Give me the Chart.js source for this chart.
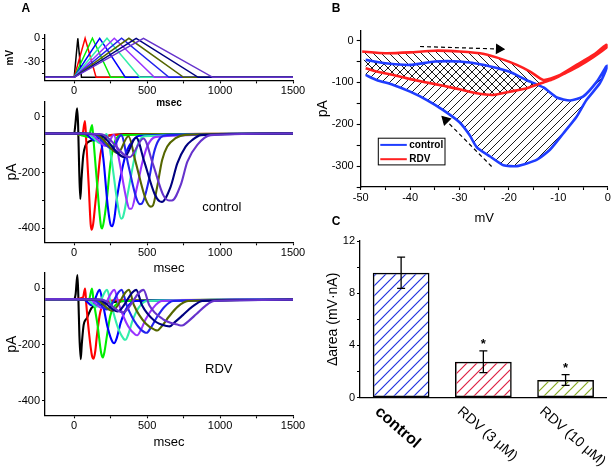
<!DOCTYPE html>
<html><head><meta charset="utf-8">
<script src="https://cdn.jsdelivr.net/npm/chart.js@4.4.1/dist/chart.umd.min.js"></script>
<style>
html,body{margin:0;padding:0;background:#fff;}
#wrap{position:relative;width:616px;height:468px;overflow:hidden;background:#fff;}
#wrap canvas{position:absolute;left:0;top:0;width:616px;height:468px;}
</style></head><body>
<div id="wrap">
<canvas id="cA1" width="616" height="468"></canvas>
<canvas id="cA2" width="616" height="468"></canvas>
<canvas id="cA3" width="616" height="468"></canvas>
<canvas id="cB" width="616" height="468"></canvas>
<canvas id="cC" width="616" height="468"></canvas>
</div>
<script>
// ---------------- DATA ----------------
// Panel A: ramp protocols
const tTicks = [0, 250, 500, 750, 1000, 1250, 1500];
const tLabels = [0, 500, 1000, 1500];
const protoVTicks = [0, -15, -30, -45];
const protoVLabels = [0, -30];
const rampPeak = [25, 75, 125, 175, 225, 275, 325, 375, 425, 475];
const rampEnd = [50, 150, 250, 350, 450, 550, 650, 750, 850, 950];
const holdV = -50, peakV = 0;
const traceColors = ['#000000', '#ff0000', '#00ee00', '#0000ff', '#33eeaa', '#9933ff', '#2222ee', '#556600', '#000080', '#6633cc'];

// Panel A: currents, control  [msec, pA]
const c50 = [[-200,-60],[0,-60],[8,-28],[20,30],[27,-30],[34,-180],[42,-295],[50,-225],[62,-140],[76,-105],[120,-85],[200,-72],[350,-62],[1500,-62]];
const c150 = [[-200,-60],[0,-60],[55,-66],[74,-15],[82,-80],[100,-250],[113,-385],[120,-405],[130,-385],[145,-310],[160,-235],[180,-135],[210,-82],[260,-65],[1500,-60]];
const c250 = [[-200,-60],[0,-60],[100,-72],[123,-30],[132,-80],[160,-260],[185,-395],[192,-400],[205,-370],[225,-290],[248,-170],[282,-85],[330,-66],[1500,-60]];
const c350 = [[-200,-60],[0,-60],[70,-60],[140,-85],[172,-62],[200,-150],[230,-320],[252,-390],[262,-392],[275,-365],[294,-287],[328,-190],[363,-120],[397,-88],[450,-68],[1500,-60]];
const c450 = [[-200,-60],[0,-60],[90,-60],[180,-95],[222,-62],[255,-150],[300,-320],[322,-365],[332,-362],[363,-287],[397,-191],[431,-107],[480,-70],[1500,-60]];
const c550 = [[-200,-60],[0,-60],[110,-62],[220,-105],[272,-65],[310,-160],[360,-300],[380,-330],[392,-330],[431,-251],[466,-167],[500,-107],[560,-72],[1500,-60]];
const c650 = [[-200,-60],[0,-60],[130,-62],[260,-115],[322,-66],[370,-170],[425,-290],[450,-313],[462,-312],[512,-227],[546,-131],[580,-83],[640,-66],[1500,-60]];
const c750 = [[-200,-60],[0,-60],[150,-63],[300,-130],[372,-70],[420,-160],[490,-295],[525,-322],[540,-318],[569,-251],[603,-155],[638,-107],[695,-77],[760,-65],[1500,-60]];
const c850 = [[-200,-60],[0,-60],[170,-63],[345,-145],[425,-75],[480,-160],[550,-275],[585,-303],[600,-305],[661,-251],[707,-167],[764,-107],[810,-83],[870,-66],[1500,-60]];
const c950 = [[-200,-60],[0,-60],[190,-63],[380,-145],[475,-78],[540,-170],[610,-280],[650,-300],[670,-300],[730,-245],[776,-161],[844,-101],[936,-66],[1500,-60]];

// Panel A: currents, RDV  [msec, pA]
const r50 = [[-200,-38],[0,-38],[10,-20],[22,48],[28,-20],[36,-170],[45,-252],[52,-200],[65,-130],[87,-106],[122,-68],[200,-55],[350,-45],[1500,-40]];
const r150 = [[-200,-38],[0,-38],[60,-32],[75,0],[82,-50],[100,-150],[122,-240],[133,-250],[145,-222],[156,-167],[179,-84],[213,-53],[280,-42],[1500,-40]];
const r250 = [[-200,-38],[0,-38],[100,-42],[122,0],[132,-40],[160,-130],[185,-230],[197,-246],[208,-225],[225,-167],[248,-96],[282,-60],[340,-45],[1500,-40]];
const r350 = [[-200,-38],[0,-38],[70,-40],[120,-60],[175,-5],[195,-50],[230,-140],[262,-190],[275,-195],[290,-180],[320,-120],[360,-70],[420,-45],[1500,-40]];
const r450 = [[-200,-38],[0,-38],[90,-40],[155,-65],[225,-5],[250,-50],[300,-140],[340,-180],[352,-183],[370,-165],[400,-115],[440,-70],[500,-45],[1500,-40]];
const r550 = [[-200,-38],[0,-38],[110,-40],[190,-70],[275,-5],[305,-55],[370,-135],[420,-165],[432,-167],[455,-150],[490,-110],[540,-70],[600,-45],[1500,-40]];
const r650 = [[-200,-38],[0,-38],[130,-40],[225,-75],[325,-5],[360,-60],[430,-130],[485,-157],[497,-158],[525,-140],[570,-100],[620,-65],[680,-45],[1500,-40]];
const r750 = [[-200,-38],[0,-38],[150,-40],[262,-80],[375,-5],[410,-60],[490,-125],[555,-148],[570,-150],[600,-135],[650,-100],[710,-65],[780,-45],[1500,-40]];
const r850 = [[-200,-38],[0,-38],[170,-40],[297,-82],[425,-5],[465,-60],[550,-115],[635,-134],[655,-135],[690,-120],[745,-95],[810,-65],[880,-45],[1500,-40]];
const r950 = [[-200,-38],[0,-38],[190,-40],[332,-85],[475,-5],[515,-60],[610,-110],[715,-130],[740,-132],[780,-118],[840,-90],[900,-62],[960,-45],[1500,-40]];

const pATicks = [0, -100, -200, -300, -400];
const pALabels = [0, -200, -400];

// Panel B: I-V loops
const ivMvTicks = [-50,-45,-40,-35,-30,-25,-20,-15,-10,-5,0];
const ivMvLabels = [-50,-40,-30,-20,-10,0];
const ivPaTicks = [0,-50,-100,-150,-200,-250,-300,-350];
const ivPaLabels = [0,-100,-200,-300];
const ctrlUpV = [-49,-45,-40,-35,-30,-25,-20,-16.5,-13,-10.3,-7.6,-5,-2.2,-0.3];
const ctrlUpI = [-46,-54,-58,-50,-50,-58,-74,-94,-112,-136,-143,-134,-98,-62];
const ctrlDnV = [0,-1.6,-4.3,-6.3,-9,-11.7,-14.4,-18.4,-21.1,-23.8,-26.5,-28,-30,-33.3,-36.6,-40,-43.4,-46.8,-49];
const ctrlDnI = [-60,-102,-142,-182,-222,-261,-285,-300,-298,-277,-255,-225,-195,-166,-142,-122,-106,-94,-82];
const rdvUpV = [-49.7,-45,-40,-35,-30,-25,-21,-18.4,-15.7,-13,-10,-6.3,-2.9,-0.3];
const rdvUpI = [-26,-30,-28,-24,-26,-32,-46,-58,-74,-94,-84,-58,-34,-10];
const rdvDnV = [0,-3,-6,-9,-11,-13,-16.4,-19.8,-23.2,-26.5,-30,-33.3,-36.6,-40,-43.4,-46.8,-49];
const rdvDnI = [-14,-40,-62,-80,-92,-100,-114,-122,-130,-126,-116,-108,-100,-92,-82,-74,-66];
const arrowTop = [[-38,-14],[-22,-20]];
const arrowBottom = [[-23.5,-301],[-32.8,-190]];
const ivSeries = ['control', 'RDV'];

// Panel C: bars
const barCats = ['control', 'RDV (3 μM)', 'RDV (10 μM)'];
const barVals = [9.57, 2.75, 1.36];
const barErr = [1.2, 0.83, 0.41];
const barSig = ['', '*', '*'];
const barTicks = [0, 2, 4, 6, 8, 10, 12];
const barLabels = [0, 4, 8, 12];

// ---------------- HELPERS ----------------
const FONT = "'Liberation Sans', Arial, Helvetica, sans-serif";
Chart.defaults.font.family = FONT;
Chart.defaults.color = '#000';
const W = 616, H = 468;
function layoutFor(L, T, R, B, yw, xh) {
  return {padding: {left: L - yw, top: T, right: W - R, bottom: H - B - xh}};
}
function axis(c) {
  const isY = c.pos === 'left';
  return {
    type: 'linear', position: c.pos, min: c.min, max: c.max,
    afterBuildTicks: s => { s.ticks = c.ticks.map(v => ({value: v})); },
    afterFit: s => {
      if (isY) { s.width = c.size; s.paddingTop = 0; s.paddingBottom = 0; }
      else { s.height = c.size; s.paddingLeft = 0; s.paddingRight = 0; }
    },
    ticks: {autoSkip: false, maxRotation: 0, minRotation: 0, padding: c.tickPad ?? 1, color: '#000',
      font: {size: 11}, callback: v => c.labels.includes(v) ? String(v) : ''},
    grid: {display: true, drawOnChartArea: false, drawTicks: true, tickLength: c.tickLen ?? 3, tickColor: '#000', tickWidth: 1.1},
    border: {display: true, color: '#000', width: 1.3},
    title: c.title ? {display: true, text: c.title, color: '#000', font: c.titleFont, padding: c.titlePad} : {display: false}
  };
}
function pts(arr) { return arr.map(p => ({x: p[0], y: p[1]})); }
function zip(xs, ys) { return xs.map((x, i) => ({x, y: ys[i]})); }
function panelLabel(t, x, y) {
  return {id: 'pl' + t, afterDraw(chart) {
    const ctx = chart.ctx; ctx.save(); ctx.fillStyle = '#000'; ctx.font = 'bold 12px ' + FONT;
    ctx.textAlign = 'left'; ctx.textBaseline = 'alphabetic'; ctx.fillText(t, x, y); ctx.restore();
  }};
}
function dataText(t, xv, yv, size) {
  return {id: 'dt' + t, afterDraw(chart) {
    const ctx = chart.ctx, xs = chart.scales.x, ys = chart.scales.y;
    ctx.save(); ctx.fillStyle = '#000'; ctx.font = size + 'px ' + FONT;
    ctx.textAlign = 'center'; ctx.textBaseline = 'middle';
    ctx.fillText(t, xs.getPixelForValue(xv), ys.getPixelForValue(yv)); ctx.restore();
  }};
}
function hatch(canvasId, color, size, lw, dir) {
  const c = document.createElement('canvas'); c.width = size; c.height = size;
  const g = c.getContext('2d'); g.strokeStyle = color; g.lineWidth = lw;
  g.beginPath();
  if (dir > 0) {
    g.moveTo(0, size); g.lineTo(size, 0);
    g.moveTo(-size / 2, size / 2); g.lineTo(size / 2, -size / 2);
    g.moveTo(size / 2, size * 1.5); g.lineTo(size * 1.5, size / 2);
  } else {
    g.moveTo(0, 0); g.lineTo(size, size);
    g.moveTo(-size / 2, size / 2); g.lineTo(size / 2, size * 1.5);
    g.moveTo(size / 2, -size / 2); g.lineTo(size * 1.5, size / 2);
  }
  g.stroke();
  return document.getElementById(canvasId).getContext('2d').createPattern(c, 'repeat');
}
const baseOpts = {responsive: false, animation: false, events: [], devicePixelRatio: 1};
const noLegend = {legend: {display: false}, tooltip: {enabled: false}};

// ---------------- A1: protocol ----------------
new Chart(document.getElementById('cA1'), {
  type: 'line',
  data: {datasets: rampEnd.map((e, i) => ({
    data: pts([[-200, holdV], [0, holdV], [rampPeak[i], peakV], [e, holdV], [1500, holdV]]),
    borderColor: traceColors[i], borderWidth: 1.5, pointRadius: 0, tension: 0, order: 9 - i
  }))},
  options: Object.assign({}, baseOpts, {
    layout: layoutFor(45, 35, 293, 80.4, 45, 30),
    plugins: noLegend,
    scales: {
      x: axis({pos: 'bottom', min: -200, max: 1500, ticks: tTicks, labels: tLabels, size: 30,
        title: 'msec', titleFont: {size: 10, weight: 'bold'}, titlePad: {top: 0, bottom: 1.4}}),
      y: axis({pos: 'left', min: -54, max: 4.2, ticks: protoVTicks, labels: protoVLabels, size: 45, tickPad: 2,
        title: 'mV', titleFont: {size: 10, weight: 'bold'}, titlePad: {top: 4, bottom: 0}})
    }
  }),
  plugins: [panelLabel('A', 21.5, 11.7)]
});

// ---------------- A2 / A3: currents ----------------
function currentChart(id, traces, top, bottom, ymin, ymax, label, lx, ly) {
  new Chart(document.getElementById(id), {
    type: 'line',
    data: {datasets: traces.map((tr, i) => ({
      data: pts(tr), borderColor: traceColors[i], borderWidth: 2.1, pointRadius: 0,
      cubicInterpolationMode: 'monotone', order: 9 - i, fill: false
    }))},
    options: Object.assign({}, baseOpts, {
      layout: layoutFor(45, top, 293, bottom, 45, 35),
      plugins: noLegend,
      scales: {
        x: axis({pos: 'bottom', min: -200, max: 1500, ticks: tTicks, labels: tLabels, size: 35,
          title: 'msec', titleFont: {size: 13}, titlePad: {top: 0, bottom: id === 'cA2' ? 1.5 : 0.5}}),
        y: axis({pos: 'left', min: ymin, max: ymax, ticks: pATicks, labels: pALabels, size: 45, tickPad: 2,
          title: 'pA', titleFont: {size: 14}, titlePad: {top: 3.6, bottom: 0}})
      }
    }),
    plugins: [dataText(label, lx, ly, 13)]
  });
}
currentChart('cA2', [c50, c150, c250, c350, c450, c550, c650, c750, c850, c950], 101.4, 242.3, -450, 55, 'control', 1012, -324);
currentChart('cA3', [r50, r150, r250, r350, r450, r550, r650, r750, r850, r950], 273, 415.3, -452, 55, 'RDV', 991, -289);

// ---------------- B: I-V ----------------
const ctrlBlue = '#1f3dff', rdvRed = '#ff2020';
const ivLegend = {id: 'ivLegend', afterDraw(chart) {
  const ctx = chart.ctx, a = chart.chartArea;
  const x0 = a.left + 17.6, y0 = a.top + 108, w = 66.7, h = 26.7;
  ctx.save();
  ctx.strokeStyle = '#000'; ctx.lineWidth = 1; ctx.strokeRect(x0, y0, w, h);
  [[ctrlBlue, ivSeries[0]], [rdvRed, ivSeries[1]]].forEach(([c, t], i) => {
    const y = y0 + 6.7 + i * 14.3;
    ctx.strokeStyle = c; ctx.lineWidth = 2; ctx.beginPath(); ctx.moveTo(x0 + 2, y); ctx.lineTo(x0 + 28.5, y); ctx.stroke();
    ctx.fillStyle = '#000'; ctx.font = 'bold 10px ' + FONT; ctx.textAlign = 'left'; ctx.textBaseline = 'middle';
    ctx.fillText(t, x0 + 31, y + 0.5);
  });
  ctx.restore();
}};
new Chart(document.getElementById('cB'), {
  type: 'line',
  data: {datasets: [
    {data: pts(arrowTop), borderColor: '#000', borderWidth: 1.2, borderDash: [4, 3], pointRadius: [0, 5],
      pointStyle: 'triangle', pointRotation: 92, pointBackgroundColor: '#000', pointBorderColor: '#000', tension: 0},
    {data: pts(arrowBottom), borderColor: '#000', borderWidth: 1.2, borderDash: [4, 3], pointRadius: [0, 5],
      pointStyle: 'triangle', pointRotation: -45, pointBackgroundColor: '#000', pointBorderColor: '#000', tension: 0},
    {label: ivSeries[1], data: zip(rdvUpV, rdvUpI).concat(zip(rdvDnV, rdvDnI)), borderColor: rdvRed, borderWidth: 2.6,
      pointRadius: 0, tension: 0.2, fill: 'shape', backgroundColor: hatch('cB', '#000', 8, 0.9, -1)},
    {label: ivSeries[0], data: zip(ctrlUpV, ctrlUpI).concat(zip(ctrlDnV, ctrlDnI)), borderColor: ctrlBlue, borderWidth: 2.6,
      pointRadius: 0, tension: 0.2, fill: 'shape', backgroundColor: hatch('cB', '#000', 8, 0.9, 1)}
  ]},
  options: Object.assign({}, baseOpts, {
    layout: layoutFor(360.7, 30.2, 607.7, 187, 46, 40),
    plugins: Object.assign({filler: {drawTime: 'beforeDatasetsDraw'}}, noLegend),
    scales: {
      x: axis({pos: 'bottom', min: -50, max: 0, ticks: ivMvTicks, labels: ivMvLabels, size: 40,
        title: 'mV', titleFont: {size: 13}, titlePad: {top: 0, bottom: 1.2}}),
      y: axis({pos: 'left', min: -350, max: 25, ticks: ivPaTicks, labels: ivPaLabels, size: 46, tickLen: 4, tickPad: 3,
        title: 'pA', titleFont: {size: 14}, titlePad: {top: 0, bottom: 0}})
    }
  }),
  plugins: [ivLegend, panelLabel('B', 331.7, 11.7)]
});

// ---------------- C: bars ----------------
const barDeco = {id: 'barDeco', afterDatasetsDraw(chart) {
  const ctx = chart.ctx, xs = chart.scales.x, ys = chart.scales.y;
  ctx.save();
  barVals.forEach((v, i) => {
    const px = xs.getPixelForValue(i);
    const t = ys.getPixelForValue(v + barErr[i]), b = ys.getPixelForValue(v - barErr[i]);
    ctx.strokeStyle = '#000'; ctx.lineWidth = 1.3; ctx.beginPath();
    ctx.moveTo(px, t); ctx.lineTo(px, b);
    ctx.moveTo(px - 4, t); ctx.lineTo(px + 4, t);
    ctx.moveTo(px - 4, b); ctx.lineTo(px + 4, b);
    ctx.stroke();
    if (barSig[i]) {
      ctx.fillStyle = '#000'; ctx.font = 'bold 13px ' + FONT; ctx.textAlign = 'center'; ctx.textBaseline = 'alphabetic';
      ctx.fillText(barSig[i], px, t - 3);
    }
  });
  ctx.restore();
}, afterDraw(chart) {
  const ctx = chart.ctx, xs = chart.scales.x, a = chart.chartArea;
  barCats.forEach((t, i) => {
    const px = xs.getPixelForValue(i);
    ctx.save(); ctx.translate(px - 24, a.bottom + 12); ctx.rotate(41 * Math.PI / 180);
    ctx.fillStyle = '#000'; ctx.font = (i === 0 ? 'bold 16px ' : '14px ') + FONT;
    ctx.textAlign = 'left'; ctx.textBaseline = 'middle'; ctx.fillText(t, 0, 0); ctx.restore();
  });
}};
new Chart(document.getElementById('cC'), {
  type: 'bar',
  data: {labels: barCats, datasets: [{
    data: barVals,
    backgroundColor: [hatch('cC', '#2233dd', 10, 1.2, 1), hatch('cC', '#dd2244', 10, 1.2, 1), hatch('cC', '#88aa22', 10, 1.2, 1)],
    borderColor: '#000', borderWidth: 1.5, borderSkipped: false, barPercentage: 0.69, categoryPercentage: 1
  }]},
  options: Object.assign({}, baseOpts, {
    layout: layoutFor(360, 241, 606.7, 397.7, 35.4, 10),
    plugins: noLegend,
    scales: {
      x: {type: 'category', position: 'bottom', ticks: {display: false},
        grid: {display: true, drawOnChartArea: false, drawTicks: false},
        border: {display: true, color: '#000', width: 1.3},
        afterFit: s => { s.height = 10; s.paddingLeft = 0; s.paddingRight = 0; }},
      y: axis({pos: 'left', min: 0, max: 12, ticks: barTicks, labels: barLabels, size: 35.4, tickLen: 3, tickPad: 2,
        title: 'Δarea (mV·nA)', titleFont: {size: 14}, titlePad: {top: 0, bottom: 0}})
    }
  }),
  plugins: [barDeco, panelLabel('C', 331.7, 225)]
});
</script>
</body></html>
